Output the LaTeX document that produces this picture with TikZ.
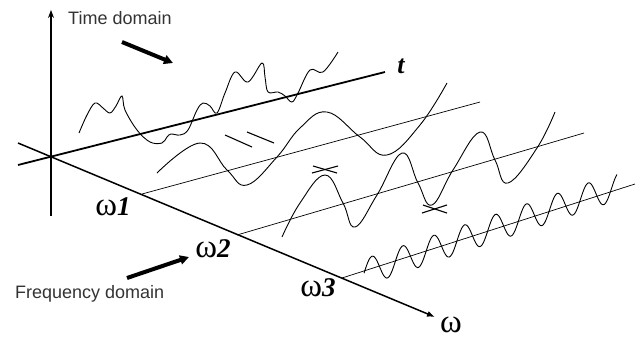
\documentclass[tikz,border=0pt]{standalone}
\usepackage{fontspec}
\setmainfont{Liberation Serif}
\newfontfamily\labelsans{Liberation Sans}
\usetikzlibrary{arrows.meta}
\newcommand{\bigw}{{\fontsize{33}{34}\selectfont ω}}
\begin{document}
\begin{tikzpicture}[x=1pt,y=-1pt,
  axisline/.style={line width=1.8pt},
  thinline/.style={line width=0.7pt},
  wave/.style={line width=0.9pt, smooth, tension=0.7},
  mark2/.style={line width=1.1pt},
  bigarrow/.style={line width=4pt, -{Triangle[length=9pt,width=9pt]}},
  caption/.style={font=\labelsans\fontsize{18}{20}\selectfont, text=black!80, inner sep=0pt, anchor=west},
  wlabel/.style={font=\fontsize{27}{30}\selectfont, inner sep=0pt, anchor=base},
]
\useasboundingbox (0,0) rectangle (640,338);

% axes coordinates
\coordinate (vb) at (51,216);
\coordinate (vt) at (51,10);
\coordinate (t0) at (18,165);
\coordinate (t1) at (385,72);
\coordinate (w0) at (18,143);
\coordinate (w1) at (435,317);
\coordinate (p1) at (142,194);
\coordinate (q1) at (480,102);
\coordinate (p2) at (237,235);
\coordinate (q2) at (584,133);
\coordinate (p3) at (342,278);
\coordinate (q3) at (635,184);

\draw[line width=1.2pt, -{Stealth[length=8pt,width=6pt]}] (vb) -- (vt);
\draw[axisline] (t0) -- (t1);
\draw[line width=1.5pt, -{Latex[length=8pt,width=6pt]}] (w0) -- (w1);
\draw[thinline] (p1) -- (q1);
\draw[thinline] (p2) -- (q2);
\draw[thinline] (p3) -- (q3);

% labels
\node[font=\bfseries\itshape\fontsize{26}{28}\selectfont, inner sep=0pt] (tl) at (401,66) {t};
\node[wlabel] (wl) at (451,332) {\bigw};
\node[wlabel] (w1l) at (113,215) {\bigw\textbf{\textit{1}}};
\node[wlabel] (w2l) at (213,257) {\bigw\textbf{\textit{2}}};
\node[wlabel] (w3l) at (318,296) {\bigw\textbf{\textit{3}}};

\node[caption] (td) at (68,18) {Time domain};
\node[caption] (fd) at (15,294) {Frequency domain};

% thick arrows
\coordinate (ta0) at (122,42);
\coordinate (ta1) at (173,63);
\coordinate (fa0) at (127,278);
\coordinate (fa1) at (189,257);
\draw[bigarrow] (ta0) -- (ta1);
\draw[bigarrow] (fa0) -- (fa1);

% signal in time domain
\draw[wave, tension=0.6] plot coordinates {(79,133) (87,115) (95,103) (103,108) (110,113) (116,106) (122,96) (125,110) (137,130) (150,142) (162,143) (167,137) (171,134) (180,135) (188,130) (197,110) (203,103) (210,106) (217,113) (225,93) (235,72) (248,82) (262,63) (265,77) (268,92) (278,92) (285,96) (292,102) (298,93) (310,70) (323,72) (338,52)};

% omega 1 component
\draw[wave] plot coordinates {(157,173) (200,143) (227,170) (247,185) (277,157) (300,128) (327,112) (360,137) (387,155) (420,125) (447,83)};

% omega 2 component
\draw[wave] plot coordinates {(282,237) (300,203) (325,175) (343,203) (355,227) (377,195) (402,153) (418,183) (432,205) (453,170) (480,132) (495,160) (508,183) (537,148) (555,112)};

% omega 3 component
\draw[line width=0.9pt] plot[domain=364:617, samples=200, smooth] (\x, {267-0.339*(\x-380) - 13.5*cos(11.65*(\x-372))});

% crosses
\draw[mark2] (312,173) -- (338,166);
\draw[mark2] (313,166) -- (337,173);
\draw[mark2] (422,213) -- (447,205);
\draw[mark2] (423,205) -- (447,213);

% double dash
\draw[mark2] (225,135) -- (252,147);
\draw[mark2] (247,132) -- (274,143);
\end{tikzpicture}
\end{document}
